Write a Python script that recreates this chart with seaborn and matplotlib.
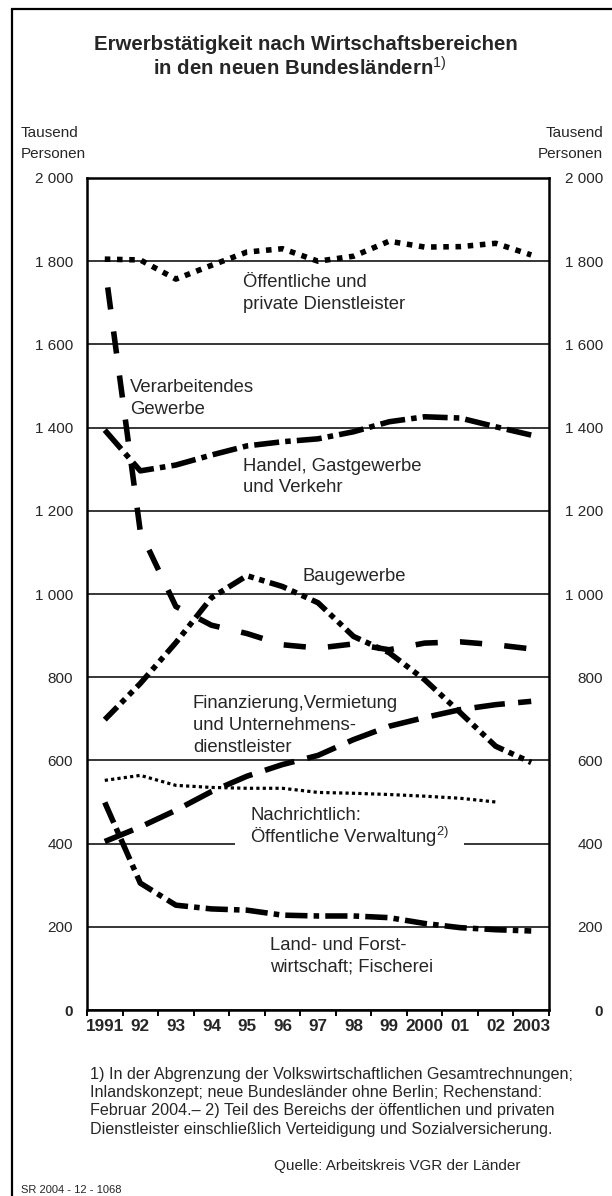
import matplotlib
matplotlib.use("Agg")
import matplotlib.pyplot as plt
import matplotlib.patches as mpatches
import numpy as np
import pandas as pd
import seaborn as sns

# Werte in Tausend Personen
years = list(range(1991, 2004))
year_labels = ["1991", "92", "93", "94", "95", "96", "97", "98", "99", "2000", "01", "02", "2003"]
y_ticks = [0, 200, 400, 600, 800, 1000, 1200, 1400, 1600, 1800, 2000]
y_labels = ["0", "200", "400", "600", "800", "1 000", "1 200", "1 400", "1 600", "1 800", "2 000"]

oeffentliche = [1805, 1803, 1757, 1790, 1822, 1830, 1800, 1812, 1848, 1834, 1835, 1843, 1815]
verarbeitendes = [1790, 1150, 970, 925, 905, 878, 870, 880, 866, 882, 885, 878, 868]
handel = [1394, 1296, 1310, 1334, 1356, 1366, 1373, 1390, 1414, 1426, 1423, 1402, 1382]
baugewerbe = [698, 785, 883, 991, 1044, 1018, 979, 898, 859, 794, 715, 634, 595]
finanzierung = [405, 440, 480, 525, 562, 590, 612, 650, 682, 703, 722, 734, 742]
verwaltung = [552, 564, 540, 535, 533, 533, 523, 521, 518, 514, 509, 500, np.nan]
landwirtschaft = [499, 305, 252, 243, 240, 228, 226, 226, 222, 208, 198, 193, 190]

df = pd.DataFrame({
    "Jahr": years,
    "oeffentliche": oeffentliche,
    "verarbeitendes": verarbeitendes,
    "handel": handel,
    "baugewerbe": baugewerbe,
    "finanzierung": finanzierung,
    "verwaltung": verwaltung,
    "landwirtschaft": landwirtschaft,
})

sns.set_style("white")
plt.rcParams["font.family"] = ["Liberation Sans", "DejaVu Sans"]
plt.rcParams["mathtext.fontset"] = "custom"
plt.rcParams["mathtext.rm"] = "Liberation Sans"

W, H = 612, 1196
fig = plt.figure(figsize=(W / 100, H / 100), dpi=100)


def fx(px):
    return px / W


def fy(py):
    return 1 - py / H


ax = fig.add_axes([fx(87), fy(1010), (549 - 87) / W, (1010 - 178) / H])

# Linienstile: Breite, Offset, Strichmuster (in Vielfachen der Linienbreite)
styles = {
    "oeffentliche": (4.0, 0, (1, 1.2)),
    "verarbeitendes": (4.0, 4.0, (4.0, 4.0)),
    "handel": (4.0, 0, (4.5, 1.1, 1, 1.1)),
    "baugewerbe": (4.0, 0, (3.2, 1.0, 1, 1.0, 1, 1.0)),
    "finanzierung": (4.0, 0, (5.5, 2.4)),
    "verwaltung": (2.3, 0, (1, 1)),
    "landwirtschaft": (4.0, 0, (4.0, 1.1, 1, 1.1)),
}

for col, (lw, off, dashes) in styles.items():
    sns.lineplot(data=df, x="Jahr", y=col, ax=ax, color="black", lw=lw,
                 linestyle=(off, dashes), dash_capstyle="butt", zorder=3)

ax.set_xlim(1990.5, 2003.5)
ax.set_ylim(0, 2000)
ax.set_xlabel("")
ax.set_ylabel("")

ax.set_yticks(y_ticks)
ax.set_yticklabels(y_labels, fontsize=11)
ax.get_yticklabels()[0].set_fontweight("bold")
ax.tick_params(axis="y", length=0, pad=10)
ax.yaxis.grid(True, color="black", lw=1.1, zorder=1)
ax.set_axisbelow(True)

ax.set_xticks(years)
ax.set_xticklabels(year_labels, fontsize=12.3, fontweight="bold")
ax.tick_params(axis="x", which="major", length=0, pad=6.5)
ax.set_xticks(np.arange(1990.5, 2004, 1.0), minor=True)
ax.tick_params(axis="x", which="minor", length=4.5, width=1.4, direction="out", color="black", bottom=True)

for s in ax.spines.values():
    s.set_color("black")
    s.set_linewidth(1.8)

ax2 = ax.twinx()
ax2.set_ylim(0, 2000)
ax2.set_yticks(y_ticks)
ax2.set_yticklabels(y_labels, fontsize=11, ha="right")
ax2.get_yticklabels()[0].set_fontweight("bold")
ax2.tick_params(axis="y", length=0, pad=39)
for s in ax2.spines.values():
    s.set_visible(False)

# Titel
fig.text(0.5, fy(50), "Erwerbstätigkeit nach Wirtschaftsbereichen", ha="center", va="baseline",
         fontsize=14.7, fontweight="bold")
fig.text(0.49, fy(76), r"in den neuen Bundesländern$^{\mathrm{1)}}$", ha="center", va="baseline",
         fontsize=14.7, fontweight="bold")

# Einheiten
for x, ha in [(21, "left"), (603, "right")]:
    fig.text(fx(x), fy(137), "Tausend", ha=ha, va="baseline", fontsize=11)
    fig.text(fx(x), fy(158), "Personen", ha=ha, va="baseline", fontsize=11)

# Beschriftungen der Linien
lab = dict(fontsize=13.3, va="baseline", ha="left")
labels = [
    (243, 287, "Öffentliche und"),
    (243, 309, "private Dienstleister"),
    (130, 392, "Verarbeitendes"),
    (130, 414, "Gewerbe"),
    (243, 471, "Handel, Gastgewerbe"),
    (243, 492, "und Verkehr"),
    (302, 581, "Baugewerbe"),
    (193, 708, "Finanzierung,Vermietung"),
    (193, 730, "und Unternehmens-"),
    (193, 752, "dienstleister"),
    (270, 950, "Land- und Forst-"),
    (270, 972, "wirtschaft; Fischerei"),
]
for x, y, t in labels:
    fig.text(fx(x), fy(y), t, **lab)
fig.text(fx(250), fy(843), r"Öffentliche Verwaltung$^{\mathrm{2)}}$", fontsize=13.3, va="baseline",
         ha="left", bbox=dict(facecolor="white", edgecolor="none", pad=11), zorder=5)
fig.text(fx(250), fy(820), "Nachrichtlich:", zorder=6, **lab)

# Fussnoten
notes = [
    "1) In der Abgrenzung der Volkswirtschaftlichen Gesamtrechnungen;",
    "Inlandskonzept; neue Bundesländer ohne Berlin; Rechenstand:",
    "Februar 2004.– 2) Teil des Bereichs der öffentlichen und privaten",
    "Dienstleister einschließlich Verteidigung und Sozialversicherung.",
]
for i, t in enumerate(notes):
    fig.text(fx(90), fy(1079 + i * 18.2), t, fontsize=11.6, va="baseline", ha="left")
fig.text(fx(521), fy(1170), "Quelle: Arbeitskreis VGR der Länder", fontsize=11, va="baseline", ha="right")
fig.text(fx(21), fy(1193), "SR 2004 - 12 - 1068", fontsize=8, va="baseline", ha="left")

# Rahmen
fig.patches.append(mpatches.Rectangle((fx(12), fy(1250)), 1.2, (1250 - 9) / H, transform=fig.transFigure,
                                      fill=False, edgecolor="black", lw=1.6))

fig.savefig("out.png", dpi=100, facecolor="white")
